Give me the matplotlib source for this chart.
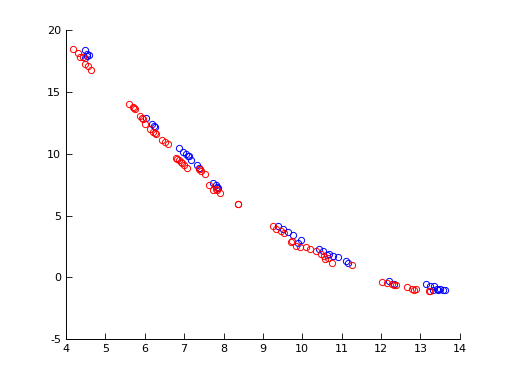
import numpy as np
import matplotlib
matplotlib.use('Agg')
import matplotlib.pyplot as plt

plt.rcParams['axes.unicode_minus'] = False

# red group
red_x = [4.17, 4.30, 4.36, 4.42, 4.49, 4.55, 4.63,
         5.61, 5.69, 5.72, 5.76, 5.88, 5.92, 5.95, 6.00, 6.12, 6.22, 6.25, 6.29, 6.44, 6.52, 6.60,
         6.80, 6.83, 6.86, 6.92, 6.94, 6.99, 7.08, 7.37, 7.40, 7.42, 7.53, 7.63, 7.73, 7.80, 7.83, 7.92,
         8.36, 8.38,
         9.25, 9.34, 9.46, 9.54, 9.71, 9.75, 9.83, 9.93, 10.10, 10.19, 10.36, 10.48, 10.55,
         10.59, 10.66, 10.76, 11.26,
         12.03, 12.14, 12.29, 12.33, 12.37, 12.66, 12.80, 12.85, 12.88, 13.22, 13.25]
red_y = [18.52, 18.17, 17.84, 17.86, 17.30, 17.10, 16.80,
         14.07, 13.80, 13.70, 13.60, 13.07, 12.95, 12.85, 12.45, 12.05, 11.77, 11.70, 11.64, 11.15, 10.97, 10.78,
         9.70, 9.62, 9.54, 9.36, 9.30, 9.08, 8.86, 8.81, 8.76, 8.62, 8.35, 7.46, 7.11, 7.15, 7.11, 6.87,
         5.98, 5.93,
         4.20, 3.95, 3.77, 3.60, 2.89, 2.95, 2.55, 2.47, 2.42, 2.30, 2.15, 1.88, 1.75,
         1.45, 1.60, 1.20, 1.04,
         -0.36, -0.44, -0.55, -0.58, -0.63, -0.82, -0.93, -1.00, -0.98, -1.14, -1.10]

# blue group
blue_x = [4.47, 4.53, 4.59, 4.47, 4.52,
          6.03, 6.19, 6.27, 6.23,
          6.86, 6.96, 7.05, 7.09, 7.13, 7.18, 7.32, 7.38, 7.73, 7.80, 7.86, 7.83,
          9.38, 9.51, 9.64, 9.76, 9.90, 9.97, 10.42, 10.53, 10.64, 10.69, 10.78, 10.90, 11.10, 11.16,
          12.20, 12.33, 13.14, 13.24, 13.35, 13.41, 13.51, 13.62, 13.31, 13.46, 13.57]
blue_y = [18.40, 18.10, 18.00, 17.80, 17.95,
          12.93, 12.45, 12.18, 12.30,
          10.50, 10.16, 10.02, 9.80, 9.85, 9.48, 9.08, 8.85, 7.65, 7.46, 7.27, 7.35,
          4.18, 3.95, 3.67, 3.46, 2.80, 3.00, 2.28, 2.12, 1.80, 1.93, 1.74, 1.66, 1.31, 1.20,
          -0.30, -0.50, -0.55, -0.71, -0.71, -0.98, -0.98, -1.03, -1.03, -1.05, -1.00]

fig = plt.figure(figsize=(5.08, 3.81), dpi=100)
ax = fig.add_axes([0.13, 0.11, 0.775, 0.81])

ax.plot(blue_x, blue_y, 'o', color='#0000ff', mfc='none', ms=4.5, mew=0.7)
ax.plot(red_x, red_y, 'o', color='#ff0000', mfc='none', ms=4.5, mew=0.7)

ax.set_xlim(4, 14)
ax.set_ylim(-5, 20)
ax.set_xticks(np.arange(4, 15, 1))
ax.set_yticks(np.arange(-5, 21, 5))
ax.spines['top'].set_visible(False)
ax.spines['right'].set_visible(False)
ax.tick_params(direction='in', length=4, width=0.6, labelsize=8)
for s in ['left', 'bottom']:
    ax.spines[s].set_linewidth(0.7)

fig.savefig('out.png', dpi=100)
